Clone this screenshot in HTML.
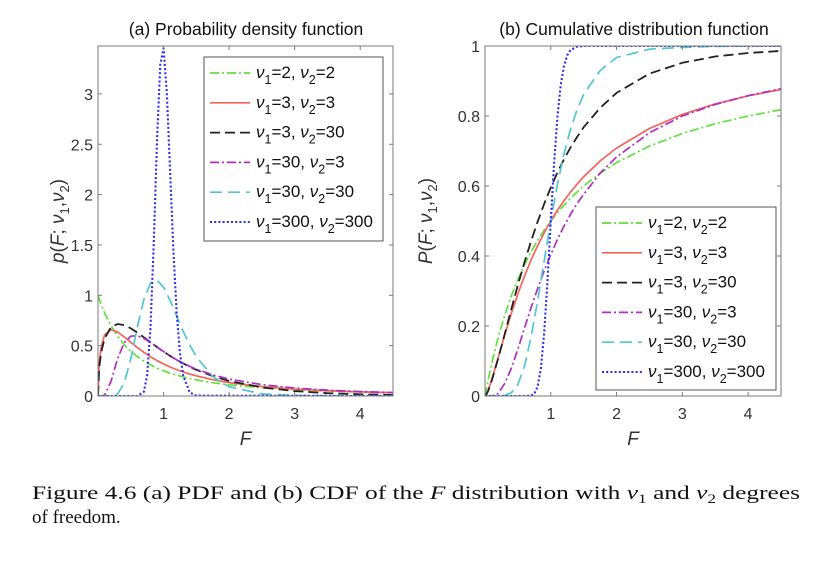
<!DOCTYPE html>
<html><head><meta charset="utf-8">
<style>
html,body{margin:0;padding:0;background:#fff;}
svg{display:block;}
.sans{font-family:"Liberation Sans",sans-serif;}
.serif{font-family:"Liberation Serif",serif;}
</style></head>
<body>
<svg id="fig" width="828" height="566" viewBox="0 0 828 566" xmlns="http://www.w3.org/2000/svg">
<g id="pdfChart" class="sans"></g>
<g id="cdfChart" class="sans"></g>
<text class="serif" x="32" y="499" font-size="19" fill="#111" textLength="768" lengthAdjust="spacingAndGlyphs">Figure 4.6 (a) PDF and (b) CDF of the <tspan font-style="italic">F</tspan> distribution with <tspan font-style="italic">ν</tspan><tspan font-size="13" dy="4">1</tspan><tspan dy="-4"> and </tspan><tspan font-style="italic">ν</tspan><tspan font-size="13" dy="4">2</tspan><tspan dy="-4"> degrees</tspan></text>
<text class="serif" x="32" y="523" font-size="19" fill="#111">of freedom.</text>
</svg>
<script>
// shared F grid
const gridF = [0,0.02,0.05,0.1,0.2,0.3,0.4,0.5,0.6,0.7,0.8,0.9,1,1.1,1.2,1.3,1.4,1.5,1.75,2,2.5,3,3.5,4,4.5];
const gridF300 = [0,0.6,0.7,0.75,0.8,0.85,0.9,0.95,1,1.05,1.1,1.15,1.2,1.25,1.3,1.4,1.5,4.5];
// PDF values
const pdf_2_2 = [1,0.961,0.907,0.826,0.694,0.592,0.510,0.444,0.391,0.346,0.309,0.277,0.25,0.227,0.207,0.189,0.174,0.16,0.132,0.111,0.082,0.0625,0.049,0.04,0.033];
const pdf_3_3 = [0,0.339,0.491,0.605,0.659,0.635,0.587,0.533,0.481,0.434,0.390,0.352,0.318,0.288,0.262,0.239,0.218,0.200,0.162,0.133,0.094,0.069,0.052,0.041,0.032];
const pdf_3_30 = [0,0.291,0.438,0.570,0.686,0.715,0.704,0.672,0.630,0.582,0.534,0.486,0.441,0.398,0.359,0.323,0.289,0.260,0.197,0.149,0.085,0.049,0.028,0.017,0.010];
const pdf_30_3 = [0,0,0,0.007,0.148,0.374,0.529,0.594,0.599,0.572,0.532,0.486,0.441,0.398,0.359,0.325,0.294,0.266,0.210,0.168,0.113,0.079,0.058,0.044,0.034];
const pdf_30_30 = [0,0,0,0,0.001,0.021,0.129,0.369,0.684,0.960,1.120,1.150,1.080,0.948,0.794,0.642,0.506,0.390,0.194,0.092,0.021,0.005,0.001,0,0];
const pdf_300_300 = [0,0,0.042,0.207,0.668,1.509,2.532,3.294,3.454,3.008,2.234,1.444,0.828,0.427,0.201,0.035,0.004,0];
// CDF values
const cdf_2_2 = [0,0.0196,0.0476,0.091,0.167,0.231,0.286,0.333,0.375,0.412,0.444,0.474,0.5,0.524,0.545,0.565,0.583,0.6,0.636,0.667,0.714,0.75,0.778,0.8,0.818];
const cdf_3_3 = [0,0.0046,0.0174,0.0453,0.1095,0.1746,0.2357,0.2918,0.3425,0.3884,0.4294,0.4664,0.5,0.5304,0.5578,0.5826,0.6054,0.6265,0.6715,0.7082,0.7643,0.8045,0.8345,0.8576,0.8758];
const cdf_3_30 = [0,0.004,0.0155,0.0427,0.107,0.177,0.248,0.317,0.382,0.442,0.498,0.549,0.596,0.638,0.676,0.710,0.740,0.768,0.823,0.866,0.921,0.952,0.970,0.980,0.986];
const cdf_30_3 = [0,0,0,0,0.007,0.036,0.079,0.134,0.194,0.252,0.307,0.358,0.404,0.447,0.485,0.519,0.55,0.576,0.637,0.683,0.752,0.80,0.833,0.858,0.878];
const cdf_30_30 = [0,0,0,0,0,0.002,0.009,0.033,0.085,0.168,0.272,0.386,0.5,0.604,0.691,0.763,0.818,0.862,0.930,0.967,0.991,0.996,0.999,1,1];
const cdf_300_300 = [0,0,0.001,0.0064,0.0267,0.0797,0.181,0.3285,0.5,0.6637,0.7953,0.8868,0.9428,0.9733,0.9884,0.9982,1,1];
// tick labels
const xTicks = [1,2,3,4];
const pdfYTicks = [0,0.5,1,1.5,2,2.5,3];
const pdfYLabels = ["0","0.5","1","1.5","2","2.5","3"];
const cdfYTicks = [0,0.2,0.4,0.6,0.8,1];
const cdfYLabels = ["0","0.2","0.4","0.6","0.8","1"];
const legendV1 = ["2","3","3","30","30","300"];
const legendV2 = ["2","3","30","3","30","300"];

const NS = "http://www.w3.org/2000/svg";
function mk(tag, attrs, parent){const e=document.createElementNS(NS,tag);for(const k in attrs)e.setAttribute(k,attrs[k]);parent.appendChild(e);return e;}

const styles = [
  {c:"#5fe03c", d:"9 3 2 3", w:1.7, n:"nu-2-2"},
  {c:"#f2645c", d:"", w:1.7, n:"nu-3-3"},
  {c:"#222222", d:"10 5", w:1.8, n:"nu-3-30"},
  {c:"#b02cc4", d:"9 3 2 3", w:1.7, n:"nu-30-3"},
  {c:"#52c6d0", d:"12 6", w:1.7, n:"nu-30-30"},
  {c:"#2a2af2", d:"2 2.2", w:2.1, n:"nu-300-300"}
];

function chart(g, cfg){
  const {L,R,T,B,xmax,ymax} = cfg;
  const xs = v => L + v/xmax*(R-L);
  const ys = v => B - v/ymax*(B-T);
  const cid = cfg.id+"clip";
  const defs = mk("defs",{},g);
  const cp = mk("clipPath",{id:cid},defs);
  mk("rect",{x:L,y:T,width:R-L,height:B-T},cp);
  const sg = mk("g",{"clip-path":"url(#"+cid+")"},g);
  
  
  cfg.series.forEach((s,i)=>{
    const st = styles[i];
    const pts = s.y.map((v,j)=>xs(s.x[j]).toFixed(2)+","+ys(v).toFixed(2)).join(" ");
    const pl = mk("polyline",{points:pts,fill:"none",stroke:st.c,"stroke-width":st.w,"stroke-dasharray":st.d,"stroke-linejoin":"round"},sg);
    
    
  });
  const fr = mk("rect",{x:L,y:T,width:R-L,height:B-T,fill:"none",stroke:"#7a7a7a","stroke-width":1},g);
  
  
  xTicks.forEach(v=>{
    const x=xs(v);
    mk("line",{x1:x,x2:x,y1:B,y2:B-4,stroke:"#7a7a7a"},g);
    mk("line",{x1:x,x2:x,y1:T,y2:T+4,stroke:"#7a7a7a"},g);
    const t=mk("text",{x:x,y:B+23,"text-anchor":"middle","font-size":16,fill:"#333"},g);
    t.textContent=v;
    
    
  });
  cfg.yt.forEach((v,i)=>{
    const y=ys(v);
    mk("line",{x1:L,x2:L+4,y1:y,y2:y,stroke:"#7a7a7a"},g);
    mk("line",{x1:R,x2:R-4,y1:y,y2:y,stroke:"#7a7a7a"},g);
    const t=mk("text",{x:L-5,y:y+6,"text-anchor":"end","font-size":16,fill:"#333"},g);
    t.textContent=cfg.yl[i];
    
    
  });
  const xt=mk("text",{x:(L+R)/2,y:B+49,"text-anchor":"middle","font-size":19,"font-style":"italic",fill:"#333"},g);
  xt.textContent="F";
  
  
  const yt=mk("text",{transform:`translate(${cfg.ytx},${(T+B)/2}) rotate(-90)`,"text-anchor":"middle","font-size":19,fill:"#333"},g);
  yt.innerHTML=`<tspan font-style="italic">${cfg.ysym}</tspan>(<tspan font-style="italic">F</tspan>; <tspan font-style="italic">ν</tspan><tspan font-size="13" dy="5">1</tspan><tspan dy="-5">,</tspan><tspan font-style="italic">ν</tspan><tspan font-size="13" dy="5">2</tspan><tspan dy="-5">)</tspan>`;
  
  
  const tt=mk("text",{x:cfg.titleX,y:35,"text-anchor":"middle","font-size":17.5,fill:"#111"},g);
  tt.textContent=cfg.title;
  
  
  const lg=mk("g",{},g);
  
  
  const lb=cfg.leg;
  mk("rect",{x:lb.x,y:lb.y,width:lb.w,height:lb.h,fill:"#fff",stroke:"#555","stroke-width":1},lg);
  styles.forEach((st,i)=>{
    const y=lb.y+16+i*29.8;
    const e=mk("g",{},lg);
    
    
    mk("line",{x1:lb.x+6,x2:lb.x+46,y1:y,y2:y,stroke:st.c,"stroke-width":st.w,"stroke-dasharray":st.d},e);
    const t=mk("text",{x:lb.x+52,y:y+5,"font-size":17,fill:"#111"},e);
    t.innerHTML=`<tspan font-style="italic">ν</tspan><tspan font-size="12.5" dy="6">1</tspan><tspan dy="-6">=${legendV1[i]}, </tspan><tspan font-style="italic">ν</tspan><tspan font-size="12.5" dy="6">2</tspan><tspan dy="-6">=${legendV2[i]}</tspan>`;
  });
}

chart(document.getElementById("pdfChart"),{
  id:"pdf",L:98,R:393,T:46,B:396,xmax:4.5,ymax:3.476,
  yt:pdfYTicks,yl:pdfYLabels,ytx:64,ysym:"p",title:"(a) Probability density function",titleX:246,
  leg:{x:204,y:57,w:179,h:184},
  series:[
    {x:gridF,y:pdf_2_2},{x:gridF,y:pdf_3_3},{x:gridF,y:pdf_3_30},
    {x:gridF,y:pdf_30_3},{x:gridF,y:pdf_30_30},{x:gridF300,y:pdf_300_300}]
});
chart(document.getElementById("cdfChart"),{
  id:"cdf",L:485,R:781,T:46,B:396,xmax:4.5,ymax:1,
  yt:cdfYTicks,yl:cdfYLabels,ytx:432,ysym:"P",title:"(b) Cumulative distribution function",titleX:634,
  leg:{x:596,y:207,w:180,h:183},
  series:[
    {x:gridF,y:cdf_2_2},{x:gridF,y:cdf_3_3},{x:gridF,y:cdf_3_30},
    {x:gridF,y:cdf_30_3},{x:gridF,y:cdf_30_30},{x:gridF300,y:cdf_300_300}]
});
</script>
</body></html>
